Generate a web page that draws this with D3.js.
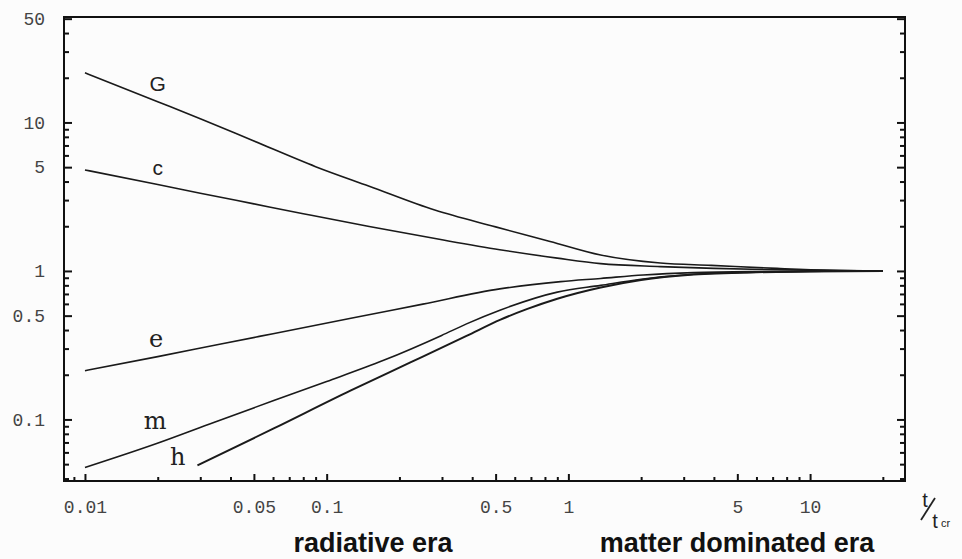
<!DOCTYPE html>
<html>
<head>
<meta charset="utf-8">
<script src="https://cdn.jsdelivr.net/npm/d3@7"></script>
<style>
  body { margin: 0; background: #fcfcfc; }
  svg { display: block; }
  .tickLabel { font-family: "Liberation Mono", "DejaVu Sans Mono", monospace; font-size: 18px; fill: #444; }
  .era { font-family: "Liberation Sans", Arial, sans-serif; font-weight: bold; font-size: 27px; fill: #111; }
</style>
</head>
<body>
<div id="chart"></div>
<script>
// curve data (t / t_cr on x, ratio on y)
const gX = [0.01, 0.02, 0.03, 0.05, 0.09, 0.15, 0.28, 0.5, 0.84, 1.36, 2.4, 3.9, 7.3, 12, 20]
const gY = [21.6, 13.8, 10.6, 7.5, 5.04, 3.72, 2.57, 1.98, 1.58, 1.28, 1.13, 1.09, 1.04, 1.01, 1.0]

const cX = [0.01, 0.02, 0.03, 0.05, 0.08, 0.15, 0.3, 0.52, 0.9, 1.36, 2.4, 4, 7, 12, 20]
const cY = [4.79, 3.82, 3.34, 2.83, 2.43, 1.99, 1.62, 1.39, 1.22, 1.12, 1.07, 1.04, 1.02, 1.01, 1.0]

const eX = [0.01, 0.02, 0.0365, 0.06, 0.126, 0.25, 0.52, 0.93, 1.36, 2.04, 3.3, 6, 12, 20]
const eY = [0.213, 0.265, 0.322, 0.378, 0.48, 0.598, 0.757, 0.847, 0.89, 0.94, 0.975, 0.99, 0.995, 1.0]

const mX = [0.01, 0.0198, 0.0341, 0.0604, 0.1, 0.172, 0.299, 0.379, 0.524, 0.9, 1.36, 2, 3.3, 6, 12, 20]
const mY = [0.0475, 0.0689, 0.0955, 0.134, 0.18, 0.25, 0.368, 0.44, 0.546, 0.72, 0.8, 0.88, 0.95, 0.98, 0.995, 1.0]

const hX = [0.0292, 0.0604, 0.126, 0.222, 0.379, 0.524, 0.677, 0.9, 1.36, 2, 3.3, 6, 10, 20]
const hY = [0.049, 0.087, 0.157, 0.242, 0.365, 0.47, 0.555, 0.65, 0.774, 0.87, 0.945, 0.98, 0.99, 1.0]

const seriesNames = ['G', 'c', 'e', 'm', 'h']
const seriesX = [gX, cX, eX, mX, hX]
const seriesY = [gY, cY, eY, mY, hY]

// where the curve letters sit, in data units
const labelX = [0.02, 0.02, 0.0197, 0.0195, 0.0242]
const labelY = [18.3, 5.0, 0.35, 0.098, 0.0555]

const xTickLabels = [0.01, 0.05, 0.1, 0.5, 1, 5, 10]
const yTickLabels = [0.1, 0.5, 1, 5, 10, 50]

const width = 962
const height = 559
const margin = { top: 17, right: 57, bottom: 78, left: 64 }
const innerW = width - margin.left - margin.right
const innerH = height - margin.top - margin.bottom

const svg = d3.select('#chart').append('svg').attr('width', width).attr('height', height)
const plot = svg.append('g').attr('transform', `translate(${margin.left}, ${margin.top})`)

const x = d3.scaleLog().domain([0.00819, 24.7]).range([0, innerW])
const y = d3.scaleLog().domain([0.0385, 51.3]).range([innerH, 0])

const fmt = d => String(d)
const isLabelled = (list, v) => list.some(t => Math.abs(t - v) / t < 1e-6)

const xMinor = x.ticks().filter(v => !isLabelled(xTickLabels, v))
const yMinor = y.ticks().filter(v => !isLabelled(yTickLabels, v))

// bottom axis: labelled ticks a bit longer, all pointing inward
plot.append('g').attr('class', 'xMinor').attr('transform', `translate(0, ${innerH})`)
  .call(d3.axisBottom(x).tickValues(xMinor).tickSizeInner(-4).tickSizeOuter(0).tickFormat(''))
plot.append('g').attr('class', 'xMajor').attr('transform', `translate(0, ${innerH})`)
  .call(d3.axisBottom(x).tickValues(xTickLabels).tickSizeInner(-7).tickSizeOuter(0).tickPadding(19).tickFormat(fmt))

plot.append('g').attr('class', 'yMinor')
  .call(d3.axisLeft(y).tickValues(yMinor).tickSizeInner(-5).tickSizeOuter(0).tickFormat(''))
plot.append('g').attr('class', 'yMajor')
  .call(d3.axisLeft(y).tickValues(yTickLabels).tickSizeInner(-8).tickSizeOuter(0).tickPadding(19).tickFormat(fmt))

plot.append('g').attr('class', 'rMinor').attr('transform', `translate(${innerW}, 0)`)
  .call(d3.axisRight(y).tickValues(yMinor).tickSizeInner(-5).tickSizeOuter(0).tickFormat(''))
plot.append('g').attr('class', 'rMajor').attr('transform', `translate(${innerW}, 0)`)
  .call(d3.axisRight(y).tickValues(yTickLabels).tickSizeInner(-8).tickSizeOuter(0).tickFormat(''))

plot.selectAll('.domain').remove()
plot.selectAll('.tick line').attr('stroke', '#111').attr('stroke-width', 2)
plot.selectAll('.tick text').attr('class', 'tickLabel').attr('fill', null)

plot.append('rect')
  .attr('width', innerW).attr('height', innerH)
  .attr('fill', 'none').attr('stroke', '#111').attr('stroke-width', 2)

// curves
const line = d3.line()
  .x(d => x(d[0]))
  .y(d => y(d[1]))
  .curve(d3.curveMonotoneX)

seriesNames.forEach((name, i) => {
  const pts = seriesX[i].map((v, j) => [v, seriesY[i][j]])
  plot.append('path')
    .datum(pts)
    .attr('class', `curve curve-${name}`)
    .attr('fill', 'none')
    .attr('stroke', '#1a1a1a')
    .attr('stroke-width', name === 'h' ? 2 : 1.6)
    .attr('d', line)
})

// curve letters
seriesNames.forEach((name, i) => {
  const sans = name === 'G' || name === 'c'
  plot.append('text')
    .attr('x', x(labelX[i]))
    .attr('y', y(labelY[i]))
    .attr('text-anchor', 'middle')
    .attr('dominant-baseline', 'central')
    .attr('font-family', sans ? '"Liberation Sans", Arial, sans-serif' : '"DejaVu Serif", "Liberation Serif", serif')
    .attr('font-size', sans ? 21 : 24)
    .attr('fill', '#222')
    .text(name)
})

// era captions
svg.append('text').attr('class', 'era').attr('x', 373).attr('y', 552).attr('text-anchor', 'middle').text('radiative era')
svg.append('text').attr('class', 'era').attr('x', 737).attr('y', 552).attr('text-anchor', 'middle').text('matter dominated era')

// t / t_cr axis title
const unit = svg.append('g').attr('class', 'unit')
unit.append('text').attr('x', 925).attr('y', 507).attr('text-anchor', 'middle')
  .attr('font-family', '"Liberation Sans", Arial, sans-serif').attr('font-size', 20).attr('fill', '#222').text('t')
unit.append('line').attr('x1', 921).attr('y1', 520).attr('x2', 935).attr('y2', 498)
  .attr('stroke', '#222').attr('stroke-width', 1.8)
unit.append('text').attr('x', 935).attr('y', 528).attr('text-anchor', 'middle')
  .attr('font-family', '"Liberation Sans", Arial, sans-serif').attr('font-size', 20).attr('fill', '#222').text('t')
unit.append('text').attr('x', 941).attr('y', 527)
  .attr('font-family', '"Liberation Sans", Arial, sans-serif').attr('font-size', 11).attr('fill', '#222').text('cr')
</script>
</body>
</html>
